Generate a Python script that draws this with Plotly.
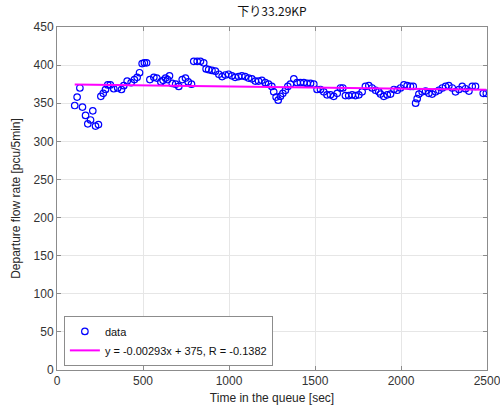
import numpy as np
import plotly.graph_objects as go

# Observed data (time in queue [sec], departure flow rate [pcu/5min])
times = [103, 117, 133, 148, 166, 179, 195, 208, 224, 241, 255, 269, 282, 295, 310,
         330, 353, 375, 388, 408, 431, 450, 466, 480, 495, 508, 521, 540, 563, 580,
         604, 617, 631, 643, 654, 670, 690, 708, 728, 747, 763, 782, 795, 815, 834,
         853, 867, 882, 901, 921, 941, 960, 979, 998, 1017, 1036, 1056, 1075, 1094, 1114,
         1133, 1153, 1172, 1191, 1211, 1230, 1249, 1260, 1274, 1286, 1299, 1313, 1328, 1342, 1357,
         1377, 1396, 1415, 1435, 1454, 1474, 1493, 1512, 1532, 1551, 1570, 1590, 1609, 1629, 1648,
         1662, 1677, 1696, 1716, 1735, 1755, 1774, 1793, 1813, 1832, 1852, 1871, 1881, 1900, 1920,
         1939, 1959, 1978, 1997, 2017, 2036, 2055, 2071, 2085, 2094, 2104, 2123, 2143, 2162, 2181,
         2201, 2220, 2240, 2259, 2278, 2298, 2317, 2337, 2356, 2375, 2395, 2414, 2433, 2478, 2496]
flow = [347, 358, 370, 345, 334, 323, 328, 340, 320, 322, 359, 363, 368, 374, 374,
        369, 370, 368, 373, 379, 377, 381, 384, 390, 402, 403, 403, 381, 384, 383,
        378, 380, 383, 381, 386, 376, 375, 372, 381, 383, 378, 375, 405, 405, 405,
        403, 395, 394, 393, 392, 388, 385, 387, 388, 386, 384, 385, 386, 385, 383,
        382, 379, 379, 380, 377, 375, 372, 365, 358, 354, 359, 363, 367, 372, 375,
        382, 377, 377, 377, 376, 376, 375, 368, 368, 365, 361, 361, 359, 363, 370,
        370, 360, 360, 361, 360, 361, 365, 372, 373, 370, 367, 365, 362, 359, 361,
        362, 368, 367, 370, 374, 373, 372, 372, 350, 356, 362, 365, 366, 363, 362,
        365, 367, 370, 372, 373, 370, 365, 368, 372, 369, 366, 372, 372, 363, 363]

slope = -0.00293
intercept = 375
fit_label = "y = -0.00293x + 375, R = -0.1382"

x_fit = np.array([min(times), max(times)])
y_fit = slope * x_fit + intercept

font_main = "Liberation Sans, Arial, Noto Sans CJK JP, sans-serif"

fig = go.Figure()
fig.add_trace(go.Scatter(
    x=times, y=flow, mode="markers", name="data",
    marker=dict(symbol="circle-open", size=6.5, color="#0000FF", line=dict(width=1.2, color="#0000FF")),
))
fig.add_trace(go.Scatter(
    x=x_fit, y=y_fit, mode="lines", name=fit_label,
    line=dict(color="#FF00FF", width=2),
))

axis_common = dict(
    showline=True, linecolor="#8c8c8c", linewidth=1, mirror="ticks",
    ticks="inside", ticklen=4, tickcolor="#8c8c8c",
    showgrid=True, gridcolor="#e6e6e6", gridwidth=1,
    zeroline=False, tickfont=dict(size=12, color="#333333", family=font_main),
    ticklabeloverflow="allow", automargin=False,
)

fig.update_layout(
    width=500, height=407,
    margin=dict(l=57, r=13, t=27, b=37),
    paper_bgcolor="white", plot_bgcolor="white",
    font=dict(family=font_main, color="#262626"),
    title=dict(text="下り33.29KP", x=0.5, xanchor="center", xref="paper",
               y=0.972, yref="container", yanchor="middle",
               font=dict(size=12, color="#111111", family="Noto Sans CJK JP, sans-serif")),
    xaxis=dict(range=[0, 2500], tickvals=[0, 500, 1000, 1500, 2000, 2500],
               title=dict(text="Time in the queue [sec]", standoff=6,
                          font=dict(size=12, color="#262626")),
               **axis_common),
    yaxis=dict(range=[0, 450], tickvals=list(range(0, 451, 50)),
               title=dict(text="Departure flow rate [pcu/5min]", standoff=10,
                          font=dict(size=12, color="#262626")),
               **axis_common),
    showlegend=True,
    legend=dict(x=0.016, y=0.012, xanchor="left", yanchor="bottom",
                bgcolor="white", bordercolor="#8c8c8c", borderwidth=1,
                font=dict(size=11, color="#111111"), tracegroupgap=0,
                itemwidth=30),
)

fig.write_html("out.html")
